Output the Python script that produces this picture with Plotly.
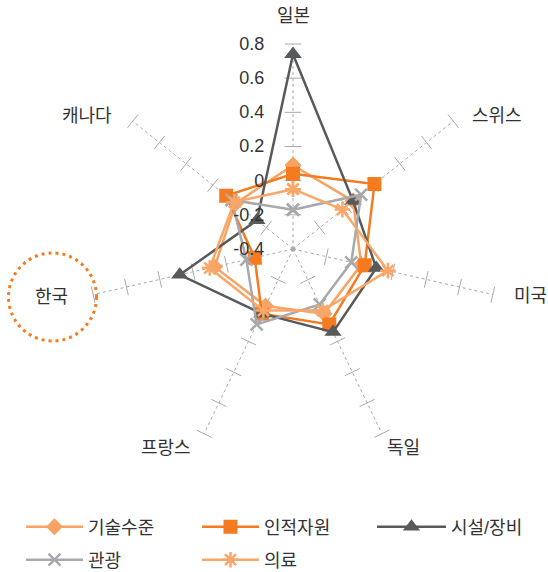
import plotly.graph_objects as go

# Categories (clockwise from the top) and the five indicator series
countries = ["일본", "스위스", "미국", "독일", "프랑스", "한국", "캐나다"]

tech_level = [0.09, 0.05, 0.01, 0.02, -0.03, 0.07, 0.03]      # 기술수준
human_res = [0.04, 0.21, 0.03, 0.09, 0.02, -0.17, 0.10]       # 인적자원
facilities = [0.74, 0.05, 0.10, 0.14, 0.02, 0.28, -0.13]      # 시설/장비
tourism = [-0.17, 0.11, -0.05, -0.04, 0.09, -0.12, 0.06]      # 관광
medical = [-0.05, -0.03, 0.17, 0.00, 0.00, 0.10, 0.04]        # 의료

radial_ticks = [-0.4, -0.2, 0, 0.2, 0.4, 0.6, 0.8]
radial_ticktext = ["-0.4", "-0.2", "0", "0.2", "0.4", "0.6", "0.8"]
r_min, r_max = -0.4, 0.8

FONT = "Liberation Sans, Noto Sans CJK KR, sans-serif"
TEXT = "#333333"
GRID = "#AAAAAA"

W, H = 548, 572
cx, cy, R = 293, 249, 205  # polar centre and radius, px
# pixel centre of each country label
label_pos = [(293, 16), (497, 116), (530, 296), (403, 448),
             (166, 448), (51, 297), (87, 116)]

series = [
    ("기술수준", tech_level, "#F8A264", dict(symbol="diamond", size=13), "legend"),
    ("인적자원", human_res, "#F47B20", dict(symbol="square", size=14), "legend"),
    ("시설/장비", facilities, "#58595B", dict(symbol="triangle-up", size=15), "legend3"),
    ("관광", tourism, "#A7A9AC", dict(symbol="x-thin", size=12, line=dict(width=2.5, color="#A7A9AC")), "legend2"),
    ("의료", medical, "#F9A769", dict(symbol="asterisk", size=13, line=dict(width=2.5, color="#F9A769")), "legend2"),
]

fig = go.Figure()

# short cross ticks on every spoke
n = len(countries)
for k, c in enumerate(countries):
    tv = [v for v in radial_ticks if v > r_min]
    fig.add_trace(go.Scatterpolar(
        r=tv, theta=[c] * len(tv), mode="markers",
        marker=dict(symbol="line-ew", size=12, angle=k * 360 / n,
                    line=dict(width=1, color=GRID), color=GRID),
        showlegend=False, hoverinfo="skip",
    ))

# centre dot
fig.add_trace(go.Scatterpolar(
    r=[r_min], theta=[countries[0]], mode="markers",
    marker=dict(size=5, color=GRID), showlegend=False, hoverinfo="skip",
))

for name, vals, color, marker, leg in series:
    m = dict(color=color, **marker)
    fig.add_trace(go.Scatterpolar(
        r=vals + vals[:1], theta=countries + countries[:1],
        mode="lines+markers", name=name, legend=leg,
        line=dict(color=color, width=2.5),
        marker=m,
    ))

# country labels around the chart
annotations = [
    dict(text=c, x=px / W, y=1 - py / H, xref="paper", yref="paper",
         xanchor="center", yanchor="middle", showarrow=False,
         font=dict(size=18, color=TEXT, family=FONT))
    for c, (px, py) in zip(countries, label_pos)
]

legend_common = dict(
    orientation="h", xanchor="left", yanchor="middle",
    entrywidth=104, entrywidthmode="pixels", itemwidth=57,
    font=dict(size=18, color=TEXT, family=FONT),
    bgcolor="rgba(0,0,0,0)",
)

fig.update_layout(
    width=W, height=H,
    margin=dict(l=0, r=0, t=0, b=0, autoexpand=False),
    paper_bgcolor="white", plot_bgcolor="white",
    font=dict(family=FONT, color=TEXT, size=16),
    polar=dict(
        domain=dict(x=[(cx - R) / W, (cx + R) / W], y=[1 - (cy + R) / H, 1 - (cy - R) / H]),
        bgcolor="white",
        radialaxis=dict(
            range=[r_min, r_max], angle=90, tickangle=90,
            tickvals=radial_ticks, ticktext=radial_ticktext,
            showgrid=False, showline=False, side="counterclockwise",
            ticks="outside", ticklen=22, tickcolor="rgba(0,0,0,0)",
            tickfont=dict(size=18, color=TEXT, family=FONT),
        ),
        angularaxis=dict(
            type="category", categoryarray=countries,
            direction="clockwise", rotation=90,
            showgrid=True, griddash="dot", gridcolor=GRID, gridwidth=1.2,
            showline=False, showticklabels=False, ticks="",
        ),
    ),
    legend=dict(legend_common, x=21 / W, y=1 - 527 / H),
    legend3=dict(legend_common, x=372 / W, y=1 - 527 / H, itemwidth=69),
    legend2=dict(legend_common, x=21 / W, y=1 - 560 / H),
    annotations=annotations,
    shapes=[dict(
        type="circle", xref="paper", yref="paper",
        x0=8.5 / W, x1=96.5 / W, y0=1 - 341 / H, y1=1 - 253 / H,
        line=dict(color="#F47B20", width=3, dash="3px,4px"),
    )],
)

fig.write_html("out.html")
